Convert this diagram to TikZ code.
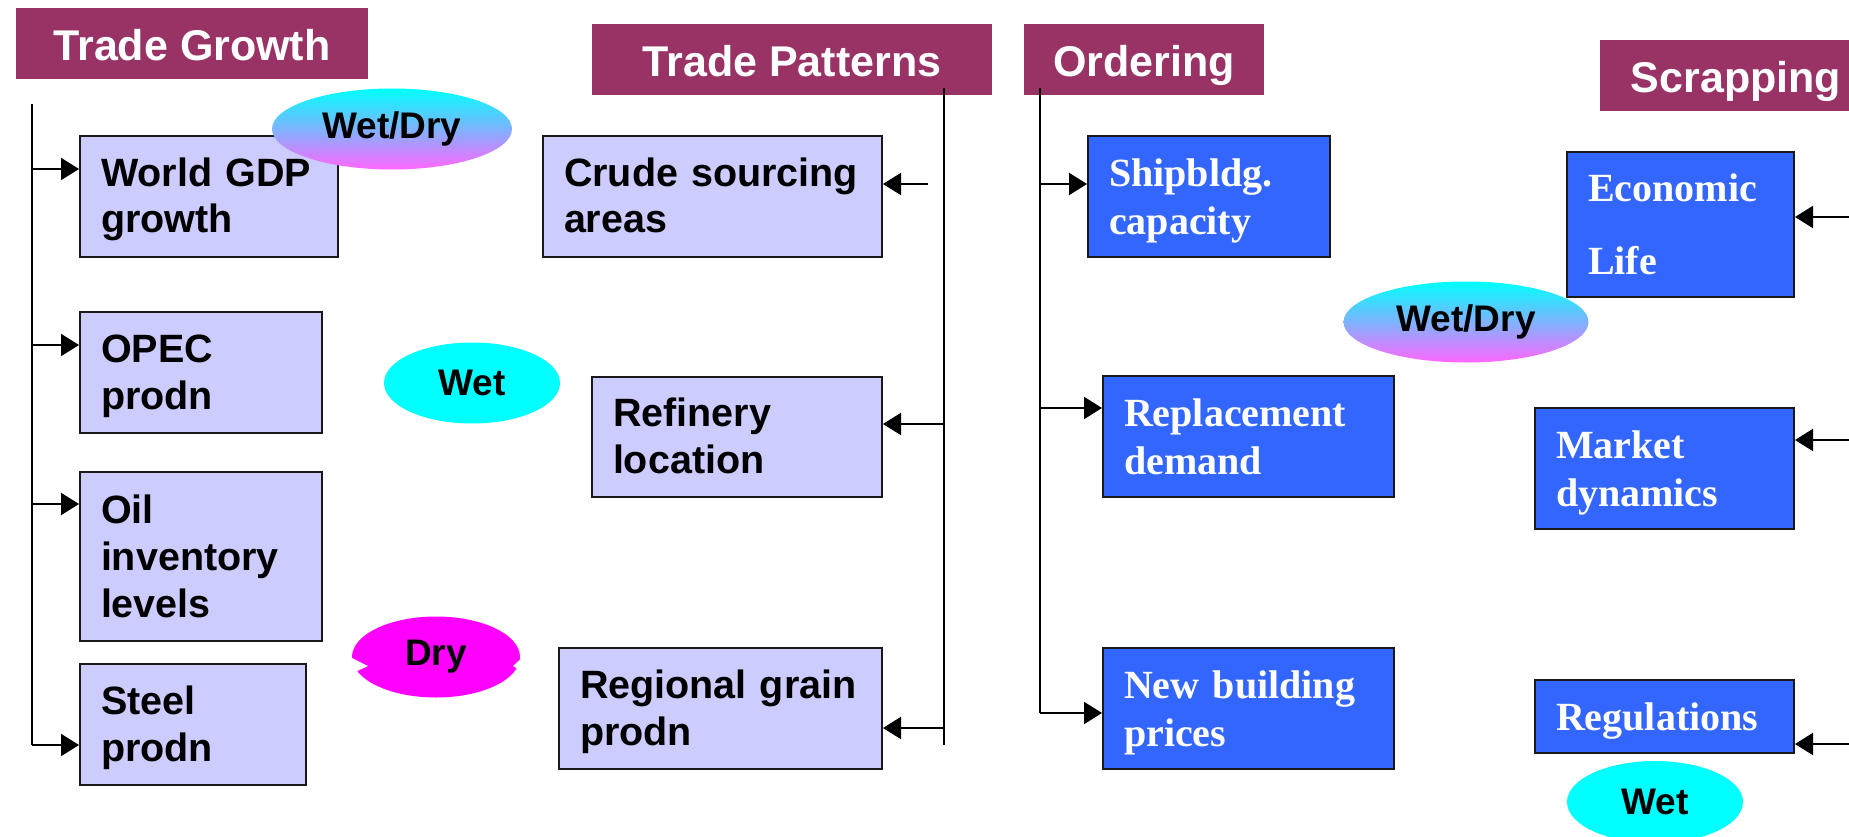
\documentclass[tikz,border=0pt]{standalone}
\usepackage{fontspec}
\setmainfont{Liberation Sans}
\newfontfamily\timesfont{Liberation Serif}
\usetikzlibrary{shapes.geometric,arrows.meta}
\definecolor{banner}{HTML}{993366}
\definecolor{lilac}{HTML}{CCCCFF}
\definecolor{royal}{HTML}{3366FF}
\definecolor{wetcol}{HTML}{00FFFF}
\definecolor{drycol}{HTML}{FF00FF}
\definecolor{mixcol}{HTML}{FF66FF}

\begin{document}
\begin{tikzpicture}[
  x=1pt,
  y=-1pt,
  head/.style={fill=banner, text=white, inner sep=0pt, minimum height=71pt, text height=35pt, text depth=0pt, font=\fontsize{43}{50}\selectfont\bfseries},
  factor/.style={draw=black!90, fill=lilac, line width=2pt, inner xsep=21pt, inner ysep=0pt, align=left, text height=28pt, text depth=49pt, font=\fontsize{39.5}{47}\selectfont\bfseries},
  driver/.style={factor, fill=royal, text=white, font=\timesfont\fontsize{40}{48}\selectfont\bfseries},
  tag/.style={ellipse, inner sep=0pt, minimum height=81pt, font=\fontsize{37}{44}\selectfont\bfseries},
  trunk/.style={line width=2pt},
  feed/.style={-{Triangle[length=18pt,width=22pt]}, line width=2pt}
]
\clip (0,0) rectangle (1849,837);

\node[head, minimum width=352pt] (tg) at (192,43.5) {Trade Growth};
\node[head, minimum width=400pt] (tp) at (792,59.5) {Trade Patterns};
\node[head, minimum width=240pt] (od) at (1144,59.5) {Ordering};
\node[head, minimum width=272pt] (sc) at (1736,75.5) {Scrapping};

\coordinate (gtop) at (32,104);
\coordinate (gbot) at (32,745);
\coordinate (ptop) at (944,88);
\coordinate (pbot) at (944,745);
\coordinate (otop) at (1040,88);
\coordinate (obot) at (1040,713);
\draw[trunk] (gtop) -- (gbot);
\draw[trunk] (ptop) -- (pbot);
\draw[trunk] (otop) -- (obot);

\node[factor, minimum width=258pt, minimum height=121pt, text width=216pt] (gdp) at (209,196.5) {World GDP\\growth};
\node[factor, minimum width=242pt, minimum height=121pt, text width=200pt] (opec) at (201,372.5) {OPEC\\prodn};
\node[factor, minimum width=242pt, minimum height=169pt, text width=200pt, text depth=95pt] (oil) at (201,556.5) {Oil\\inventory\\levels};
\node[factor, minimum width=226pt, minimum height=121pt, text width=184pt] (steel) at (193,724.5) {Steel\\prodn};

\node[factor, minimum width=339pt, minimum height=121pt, text width=297pt] (crude) at (712.5,196.5) {Crude sourcing\\areas};
\node[factor, minimum width=290pt, minimum height=120pt, text width=248pt] (refine) at (737,437) {Refinery\\location};
\node[factor, minimum width=323pt, minimum height=121pt, text width=281pt] (grain) at (720.5,708.5) {Regional grain\\prodn};

\node[driver, minimum width=242pt, minimum height=121pt, text width=200pt] (yard) at (1209,196.5) {Shipbldg.\\capacity};
\node[driver, minimum width=291pt, minimum height=121pt, text width=249pt] (repl) at (1248.5,436.5) {Replacement\\demand};
\node[driver, minimum width=291pt, minimum height=121pt, text width=249pt] (price) at (1248.5,708.5) {New building\\prices};

\node[driver, minimum width=227pt, minimum height=145pt, text width=185pt, text depth=73pt] (life) at (1680.5,224.5) {Economic\\[25pt]Life};
\node[driver, minimum width=259pt, minimum height=121pt, text width=217pt] (mkt) at (1664.5,468.5) {Market\\dynamics};
\node[driver, minimum width=259pt, minimum height=73pt, text width=217pt, text depth=1pt] (regs) at (1664.5,716.5) {Regulations};

\foreach \n/\y in {gdp/169,opec/345,oil/504,steel/745} {
  \coordinate (g-\n) at (32,\y);
  \draw[feed] (g-\n) -- (g-\n -| \n.west);
}
\coordinate (p-crude) at (928,184);
\draw[feed] (p-crude) -- (p-crude -| crude.east);
\foreach \n/\y in {refine/424,grain/728} {
  \coordinate (p-\n) at (944,\y);
  \draw[feed] (p-\n) -- (p-\n -| \n.east);
}
\foreach \n/\y in {yard/184,repl/408,price/713} {
  \coordinate (o-\n) at (1040,\y);
  \draw[feed] (o-\n) -- (o-\n -| \n.west);
}
\foreach \n/\y in {life/217,mkt/440,regs/744} {
  \coordinate (s-\n) at (1852,\y);
  \draw[feed] (s-\n) -- (s-\n -| \n.east);
}

\node[tag, minimum width=240pt, top color=wetcol, bottom color=mixcol] (wd1) at (392,129) {Wet/Dry};
\node[tag, fill=wetcol, minimum width=176pt] (wet1) at (472,383) {Wet};
\node[tag, fill=drycol, minimum width=168pt] (dry) at (436,657) {Dry};
\fill[white] (348,656) -- (368,666) -- (355,672) -- cycle;
\fill[white] (524,656) -- (513,666) -- (521,671) -- cycle;
\node[tag, minimum width=245pt, top color=wetcol, bottom color=mixcol] (wd2) at (1466,322) {Wet/Dry};
\node[tag, fill=wetcol, minimum width=176pt, minimum height=82pt] (wet2) at (1655,802) {Wet};
\end{tikzpicture}
\end{document}
